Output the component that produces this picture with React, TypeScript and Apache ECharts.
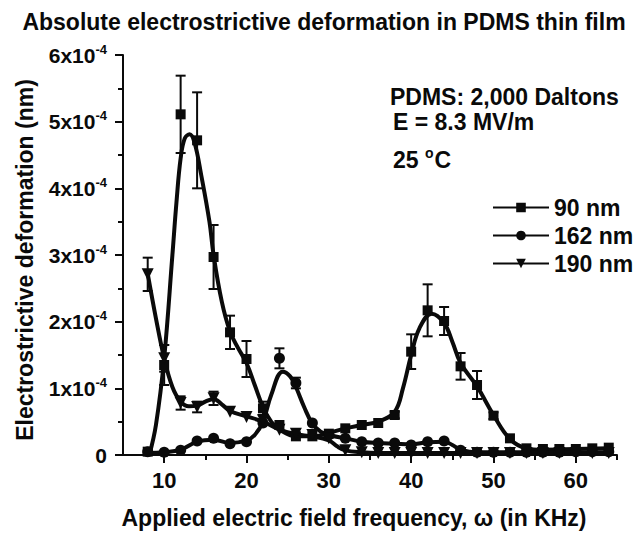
import React, { useEffect, useRef } from "react";
import * as echarts from "echarts";

// Frequencies (KHz) of the measured points
const freq = [8, 10, 12, 14, 16, 18, 20, 22, 24, 26, 28, 30, 32, 34, 36, 38, 40, 42, 44, 46, 48, 50, 52, 54, 56, 58, 60, 62, 64];

// Deformation values in units of 1e-4 nm
const d90 = [0.05, 1.35, 5.11, 4.72, 2.97, 1.84, 1.44, 0.7, 0.45, 0.28, 0.28, 0.32, 0.4, 0.45, 0.48, 0.6, 1.55, 2.17, 2.01, 1.33, 1.05, 0.59, 0.25, 0.1, 0.09, 0.09, 0.09, 0.1, 0.11];
const e90 = [0, 0.3, 0.58, 0.72, 0.48, 0.25, 0.27, 0.1, 0, 0, 0, 0, 0, 0, 0, 0.05, 0.26, 0.39, 0.21, 0.2, 0.21, 0.05, 0, 0, 0, 0, 0, 0, 0];

const d162 = [0.05, 0.04, 0.07, 0.21, 0.25, 0.17, 0.2, 0.48, 1.45, 1.08, 0.48, 0.3, 0.25, 0.2, 0.18, 0.18, 0.15, 0.2, 0.21, 0.07, 0.04, 0.04, 0.04, 0.04, 0.04, 0.04, 0.05, 0.05, 0.05];
const e162 = [0, 0, 0, 0, 0, 0, 0, 0, 0.15, 0.08, 0, 0, 0, 0, 0, 0, 0, 0, 0, 0, 0, 0, 0, 0, 0, 0, 0, 0, 0];

const d190 = [2.71, 1.45, 0.78, 0.72, 0.85, 0.65, 0.57, 0.52, 0.38, 0.32, 0.3, 0.25, 0.07, 0.04, 0.03, 0.03, 0.03, 0.03, 0.03, 0.03, 0.03, 0.03, 0.03, 0.03, 0.03, 0.03, 0.03, 0.03, 0.03];
const e190 = [0.25, 0.2, 0.1, 0.08, 0.1, 0, 0, 0, 0, 0, 0, 0, 0, 0, 0, 0, 0, 0, 0, 0, 0, 0, 0, 0, 0, 0, 0, 0, 0];

// Smooth fitted curves
const fit90X = [8.2, 9, 10, 11, 11.5, 12, 12.5, 13.1, 13.7, 14.5, 15.5, 16, 17, 18, 19, 20, 21, 22, 23, 24, 26, 28, 30, 32, 34, 36, 38, 39, 40, 41, 42.5, 44, 45, 46, 48, 50, 52, 54, 56, 60, 64];
const fit90Y = [0.0, 0.45, 1.45, 3.0, 3.8, 4.45, 4.75, 4.81, 4.68, 4.2, 3.5, 3.0, 2.3, 1.85, 1.6, 1.38, 1.05, 0.72, 0.5, 0.38, 0.28, 0.28, 0.33, 0.4, 0.45, 0.5, 0.65, 1.0, 1.5, 1.9, 2.12, 1.98, 1.7, 1.38, 1.03, 0.6, 0.24, 0.1, 0.08, 0.09, 0.1];

const fit162X = [8, 10, 12, 14, 16, 18, 20, 21, 22, 23, 24.4, 25.3, 26, 27, 28, 29, 30, 32, 34, 36, 38, 40, 42, 44, 45, 46, 48, 64];
const fit162Y = [0.03, 0.04, 0.08, 0.2, 0.23, 0.18, 0.22, 0.3, 0.5, 0.9, 1.25, 1.18, 1.02, 0.72, 0.47, 0.35, 0.3, 0.25, 0.2, 0.18, 0.17, 0.16, 0.19, 0.2, 0.15, 0.08, 0.04, 0.04];

const fit190X = [8, 9, 10, 11, 12, 13, 14, 15, 16, 17, 18, 20, 22, 24, 26, 28, 30, 31, 32, 34, 36, 64];
const fit190Y = [2.72, 2.05, 1.45, 1.02, 0.8, 0.73, 0.74, 0.8, 0.84, 0.76, 0.66, 0.58, 0.5, 0.38, 0.31, 0.28, 0.22, 0.13, 0.07, 0.04, 0.03, 0.03];

const xLabelTicks = [10, 20, 30, 40, 50, 60];
const xMinorTicks = [15, 25, 35, 45, 55, 65];
const seriesNames = ["90 nm", "162 nm", "190 nm"];

const FONT = "'Liberation Sans', Arial, sans-serif";
const INK = "#0a0a0a";
const DOWN_TRI = "path://M0,0 L10,0 L5,9 Z";

function pairs(xs: number[], ys: number[]) {
  return xs.map((x, i) => [x, ys[i]]);
}
function errData(ys: number[], es: number[]) {
  const out: number[][] = [];
  freq.forEach((x, i) => {
    if (es[i] > 0) out.push([x, ys[i] - es[i], ys[i] + es[i]]);
  });
  return out;
}

const errRender = (params: any, api: any) => {
  const x = api.value(0);
  const lo = api.coord([x, api.value(1)]);
  const hi = api.coord([x, api.value(2)]);
  const w = 5;
  const st = { stroke: INK, lineWidth: 2 };
  return {
    type: "group",
    children: [
      { type: "line", shape: { x1: hi[0], y1: hi[1], x2: lo[0], y2: lo[1] }, style: st },
      { type: "line", shape: { x1: hi[0] - w, y1: hi[1], x2: hi[0] + w, y2: hi[1] }, style: st },
      { type: "line", shape: { x1: lo[0] - w, y1: lo[1], x2: lo[0] + w, y2: lo[1] }, style: st },
    ],
  };
};

export default function App() {
  const ref = useRef<HTMLDivElement>(null);
  useEffect(() => {
    if (!ref.current) return;
    const chart = echarts.init(ref.current, undefined, { renderer: "svg" });
    const symbols = ["rect", "circle", DOWN_TRI];
    const sizes = [10, 11, 12];
    const vals = [d90, d162, d190];
    const errs = [e90, e162, e190];
    const fits = [pairs(fit90X, fit90Y), pairs(fit162X, fit162Y), pairs(fit190X, fit190Y)];
    const series: any[] = [];
    for (let k = 0; k < 3; k++) {
      series.push({
        name: seriesNames[k],
        type: "line",
        data: fits[k],
        smooth: 0.4,
        showSymbol: false,
        symbol: symbols[k],
        symbolSize: sizes[k],
        lineStyle: { color: INK, width: 4 },
        itemStyle: { color: INK },
        z: 2,
      });
      series.push({
        type: "scatter",
        data: pairs(freq, vals[k]),
        symbol: symbols[k],
        symbolSize: sizes[k],
        itemStyle: { color: INK, opacity: 1 },
        z: 3,
      });
      series.push({
        type: "custom",
        data: errData(vals[k], errs[k]),
        renderItem: errRender,
        encode: { x: 0, y: [1, 2] },
        z: 3,
      });
    }
    chart.setOption({
      animation: false,
      backgroundColor: "#fff",
      grid: { left: 123, right: 27, top: 55, bottom: 78 },
      legend: {
        data: seriesNames,
        orient: "vertical",
        left: 487,
        top: 191,
        itemWidth: 56,
        itemHeight: 12,
        itemGap: 5,
        textStyle: { fontSize: 23, fontWeight: "bold", color: INK, fontFamily: FONT },
        selectedMode: false,
      },
      xAxis: [
        {
          type: "value",
          min: 5,
          max: 65,
          axisLine: { show: true, onZero: false, lineStyle: { color: INK, width: 2 } },
          axisTick: { show: true, customValues: xLabelTicks, length: 8, lineStyle: { color: INK, width: 2 } },
          axisLabel: {
            customValues: xLabelTicks,
            fontSize: 22,
            fontWeight: "bold",
            color: INK,
            fontFamily: FONT,
            margin: 14,
          },
          splitLine: { show: false },
        },
        {
          type: "value",
          min: 5,
          max: 65,
          position: "bottom",
          axisLine: { show: false },
          axisTick: { show: true, customValues: xMinorTicks, length: 5, lineStyle: { color: INK, width: 2 } },
          axisLabel: { show: false },
          splitLine: { show: false },
        },
      ],
      yAxis: {
        type: "value",
        min: 0,
        max: 6,
        interval: 1,
        axisLine: { show: true, lineStyle: { color: INK, width: 2 } },
        axisTick: { show: true, length: 8, lineStyle: { color: INK, width: 2 } },
        minorTick: { show: true, splitNumber: 2, length: 5, lineStyle: { color: INK, width: 2 } },
        splitLine: { show: false },
        axisLabel: {
          margin: 16,
          fontSize: 21,
          fontWeight: "bold",
          color: INK,
          fontFamily: FONT,
          formatter: (v: number) => (v === 0 ? "0" : `{a|${v}x10}{b|-4}`),
          rich: {
            a: { fontSize: 21, fontWeight: "bold", color: INK, fontFamily: FONT },
            b: { fontSize: 13, fontWeight: "bold", color: INK, fontFamily: FONT, padding: [0, 0, 12, 0] },
          },
        },
      },
      graphic: [
        {
          type: "text",
          x: 324,
          y: 22,
          style: {
            text: "Absolute electrostrictive deformation in PDMS thin film",
            font: `bold 23px ${FONT}`,
            fill: INK,
            align: "center",
            verticalAlign: "middle",
          },
        },
        {
          type: "text",
          x: 25,
          y: 260,
          rotation: Math.PI / 2,
          style: {
            text: "Electrostrictive deformation (nm)",
            font: `bold 23px ${FONT}`,
            fill: INK,
            align: "center",
            verticalAlign: "middle",
          },
        },
        {
          type: "text",
          x: 354,
          y: 518,
          style: {
            text: "Applied electric field frequency, ω (in KHz)",
            font: `bold 23px ${FONT}`,
            fill: INK,
            align: "center",
            verticalAlign: "middle",
          },
        },
        {
          type: "text",
          x: 390,
          y: 97,
          style: { text: "PDMS: 2,000 Daltons", font: `bold 23px ${FONT}`, fill: INK, align: "left", verticalAlign: "middle" },
        },
        {
          type: "text",
          x: 393,
          y: 122,
          style: { text: "E = 8.3 MV/m", font: `bold 23px ${FONT}`, fill: INK, align: "left", verticalAlign: "middle" },
        },
        {
          type: "text",
          x: 393,
          y: 160,
          style: {
            text: "{a|25 }{b|o}{a|C}",
            align: "left",
            verticalAlign: "middle",
            rich: {
              a: { fontSize: 23, fontWeight: "bold", fontFamily: FONT, fill: INK },
              b: { fontSize: 14, fontWeight: "bold", fontFamily: FONT, fill: INK, padding: [0, 1, 14, 0] },
            },
          },
        },
      ],
      series,
    });
    return () => chart.dispose();
  }, []);
  return <div ref={ref} style={{ width: 644, height: 533, position: "absolute", left: 0, top: 0 }} />;
}
